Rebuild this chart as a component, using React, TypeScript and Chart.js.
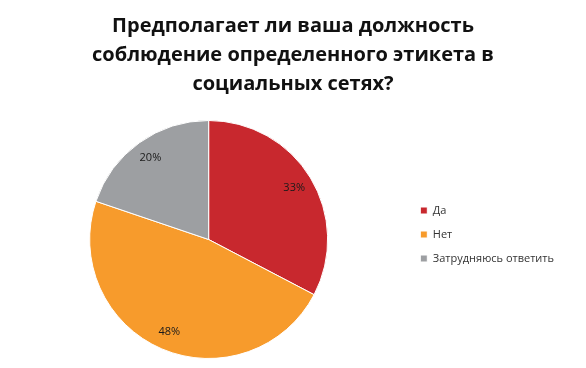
import React, { useEffect, useRef } from "react";
import { Chart, registerables } from "chart.js";

Chart.register(...registerables);

const titleLines = ["Предполагает ли ваша должность", "соблюдение определенного этикета в", "социальных сетях?"];
const categories = ["Да", "Нет", "Затрудняюсь ответить"];
const values = [33, 48, 20];
const colors = ["#C8282E", "#F79B2C", "#9D9FA2"];

const labelPlugin = {
  id: "sliceLabels",
  afterLayout(chart: any) {
    const t = chart.titleBlock;
    if (t) {
      t.left = 0;
      t.right = chart.width;
      t.width = chart.width;
    }
  },
  afterDatasetsDraw(chart: any) {
    const ctx = chart.ctx;
    const meta = chart.getDatasetMeta(0);
    ctx.save();
    ctx.font = "11px 'Open Sans', sans-serif";
    ctx.fillStyle = "#1a1a1a";
    ctx.textAlign = "center";
    ctx.textBaseline = "middle";
    meta.data.forEach((arc: any, i: number) => {
      const { x, y, startAngle, endAngle, outerRadius } = arc.getProps(["x", "y", "startAngle", "endAngle", "outerRadius"], true);
      const mid = (startAngle + endAngle) / 2;
      const r = outerRadius * 0.84;
      ctx.fillText(values[i] + "%", x + Math.cos(mid) * r, y + Math.sin(mid) * r);
    });
    ctx.restore();
  },
};

export default function App() {
  const ref = useRef<HTMLCanvasElement | null>(null);
  useEffect(() => {
    document.body.style.margin = "0";
    const chart = new Chart(ref.current as HTMLCanvasElement, {
      type: "pie",
      data: {
        labels: categories,
        datasets: [
          {
            data: values,
            backgroundColor: colors,
            borderColor: "#ffffff",
            borderWidth: 1,
          },
        ],
      },
      options: {
        animation: false,
        responsive: false,
        maintainAspectRatio: false,
        layout: { padding: { top: 0, bottom: 9, left: 10, right: 22 } },
        plugins: {
          title: {
            display: true,
            text: titleLines,
            color: "#111111",
            font: { family: "'Open Sans', sans-serif", size: 20, weight: "bold", lineHeight: 1.45 },
            padding: { top: 12, bottom: 21 },
          },
          legend: {
            position: "right",
            align: "center",
            title: {
              display: true,
              text: " ",
              font: { size: 10 },
              padding: { top: 0, bottom: 98 },
            },
            labels: {
              boxWidth: 7,
              boxHeight: 7,
              padding: 13,
              color: "#333333",
              font: { family: "'Open Sans', sans-serif", size: 11 },
            },
          },
          tooltip: { enabled: false },
        },
      },
      plugins: [labelPlugin],
    });
    return () => chart.destroy();
  }, []);
  return (
    <div style={{ position: "absolute", left: 0, top: 0, width: 586, height: 368, background: "#fff" }}>
      <canvas ref={ref} width={586} height={368} />
    </div>
  );
}
